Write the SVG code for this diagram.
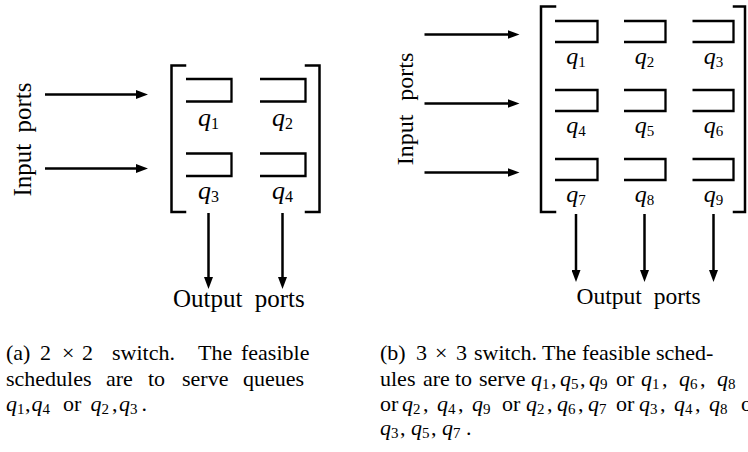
<svg xmlns="http://www.w3.org/2000/svg" width="748" height="452" viewBox="0 0 748 452">
<style>
.ln{stroke:#000;stroke-width:2.5;fill:none;stroke-linecap:square}
.q{stroke:#000;stroke-width:2.3;fill:none}
.arr{stroke:#000;stroke-width:2.5;fill:none;marker-end:url(#ah)}
text{font-family:"Liberation Serif","Times New Roman",serif;fill:#000}
.lbl{font-size:26px;text-anchor:middle}
.lbr{font-size:24px;text-anchor:middle}
.it{font-style:italic}
.cap{font-size:22px}
.s{font-size:15px}
.port{font-size:25px}
</style>
<defs>
<marker id="ah" markerUnits="userSpaceOnUse" markerWidth="12" markerHeight="9" refX="6" refY="4.5" orient="auto">
<path d="M0,0 L12,4.5 L0,9 Z" fill="#000"/>
</marker>
</defs>

<!-- Left panel: 2x2 switch -->
<g id="switchA">
<path class="ln" d="M185,65.5 H171.5 V212 H185"/>
<path class="ln" d="M306,65.5 H319.5 V212 H306"/>
</g>
<g id="a_q1"><path class="q" d="M186,79 H231.5 V101.5 H186"/><text class="lbl" x="208.5" y="126"><tspan class="it">q</tspan><tspan font-size="16" dy="3">1</tspan></text></g>
<g id="a_q2"><path class="q" d="M260,79 H305.5 V101.5 H260"/><text class="lbl" x="282.5" y="126"><tspan class="it">q</tspan><tspan font-size="16" dy="3">2</tspan></text></g>
<g id="a_q3"><path class="q" d="M186,153.5 H231.5 V176 H186"/><text class="lbl" x="208.5" y="199"><tspan class="it">q</tspan><tspan font-size="16" dy="3">3</tspan></text></g>
<g id="a_q4"><path class="q" d="M260,153.5 H305.5 V176 H260"/><text class="lbl" x="282.5" y="199"><tspan class="it">q</tspan><tspan font-size="16" dy="3">4</tspan></text></g>
<g id="a_in"><text class="port" transform="translate(31,139.5) rotate(-90)" text-anchor="middle" word-spacing="5">Input ports</text></g>
<g id="a_out"><text class="port" x="173" y="307" word-spacing="6">Output ports</text></g>

<!-- Right panel: 3x3 switch -->
<g id="switchB">
<path class="ln" d="M555,6.5 H541 V212 H555"/>
<path class="ln" d="M734,6.5 H745 V212 H734"/>
</g>
<g id="b_q1"><path class="q" d="M555,21 H597.5 V42 H555"/><text class="lbr" x="576" y="63.5"><tspan class="it">q</tspan><tspan font-size="15" dy="3">1</tspan></text></g>
<g id="b_q2"><path class="q" d="M624,21 H665.5 V42 H624"/><text class="lbr" x="644.5" y="63.5"><tspan class="it">q</tspan><tspan font-size="15" dy="3">2</tspan></text></g>
<g id="b_q3"><path class="q" d="M692.5,21 H733.5 V42 H692.5"/><text class="lbr" x="713.5" y="63.5"><tspan class="it">q</tspan><tspan font-size="15" dy="3">3</tspan></text></g>
<g id="b_q4"><path class="q" d="M555,90 H597.5 V111 H555"/><text class="lbr" x="576" y="132.5"><tspan class="it">q</tspan><tspan font-size="15" dy="3">4</tspan></text></g>
<g id="b_q5"><path class="q" d="M624,90 H665.5 V111 H624"/><text class="lbr" x="644.5" y="132.5"><tspan class="it">q</tspan><tspan font-size="15" dy="3">5</tspan></text></g>
<g id="b_q6"><path class="q" d="M692.5,90 H733.5 V111 H692.5"/><text class="lbr" x="713.5" y="132.5"><tspan class="it">q</tspan><tspan font-size="15" dy="3">6</tspan></text></g>
<g id="b_q7"><path class="q" d="M555,159 H597.5 V180 H555"/><text class="lbr" x="576" y="201.5"><tspan class="it">q</tspan><tspan font-size="15" dy="3">7</tspan></text></g>
<g id="b_q8"><path class="q" d="M624,159 H665.5 V180 H624"/><text class="lbr" x="644.5" y="201.5"><tspan class="it">q</tspan><tspan font-size="15" dy="3">8</tspan></text></g>
<g id="b_q9"><path class="q" d="M692.5,159 H733.5 V180 H692.5"/><text class="lbr" x="713.5" y="201.5"><tspan class="it">q</tspan><tspan font-size="15" dy="3">9</tspan></text></g>
<g id="b_in"><text style="font-size:24px" transform="translate(413,109) rotate(-90)" text-anchor="middle" word-spacing="8">Input ports</text></g>
<g id="b_out"><text x="576.5" y="304" style="font-size:23.5px" word-spacing="6">Output ports</text></g>

<!-- Connectors -->
<g id="connectors">
<line class="arr" x1="45" y1="94.5" x2="142" y2="94.5"/>
<line class="arr" x1="45" y1="168.5" x2="142" y2="168.5"/>
<line class="arr" x1="208.5" y1="213" x2="208.5" y2="283"/>
<line class="arr" x1="282.5" y1="213" x2="282.5" y2="283"/>
<line class="arr" x1="424.5" y1="34.5" x2="513.5" y2="34.5"/>
<line class="arr" x1="424.5" y1="103.5" x2="513.5" y2="103.5"/>
<line class="arr" x1="424.5" y1="172.5" x2="513.5" y2="172.5"/>
<line class="arr" x1="576" y1="214" x2="576" y2="276"/>
<line class="arr" x1="644.5" y1="214" x2="644.5" y2="276"/>
<line class="arr" x1="713.5" y1="214" x2="713.5" y2="276"/>
</g>

<!-- Captions -->
<g id="captionA">
<text class="cap" y="360"><tspan x="6">(a)</tspan><tspan x="40">2</tspan><tspan x="62">×</tspan><tspan x="82">2</tspan><tspan x="112">switch.</tspan><tspan x="198">The</tspan><tspan x="241">feasible</tspan></text>
<text class="cap" y="386"><tspan x="6">schedules</tspan><tspan x="106">are</tspan><tspan x="148">to</tspan><tspan x="182">serve</tspan><tspan x="243">queues</tspan></text>
<text class="cap" y="410.5"><tspan x="6" class="it">q</tspan><tspan class="s" dy="3">1</tspan><tspan x="25" dy="-3">,</tspan><tspan x="31.5" class="it">q</tspan><tspan class="s" dy="3">4</tspan><tspan x="63" dy="-3">or</tspan><tspan x="90.5" class="it">q</tspan><tspan class="s" dy="3">2</tspan><tspan x="112" dy="-3">,</tspan><tspan x="119" class="it">q</tspan><tspan class="s" dy="3">3</tspan><tspan x="141.5" dy="-3">.</tspan></text>
</g>
<g id="captionB">
<text class="cap" y="360"><tspan x="380">(b)</tspan><tspan x="416">3</tspan><tspan x="435">×</tspan><tspan x="456">3</tspan><tspan x="474">switch.</tspan><tspan x="542">The</tspan><tspan x="582">feasible</tspan><tspan x="656">sched-</tspan></text>
<text class="cap" y="385.5"><tspan x="380">ules</tspan><tspan x="423">are</tspan><tspan x="455">to</tspan><tspan x="479">serve</tspan><tspan x="531" class="it">q</tspan><tspan class="s" dy="3">1</tspan><tspan x="551" dy="-3">,</tspan><tspan x="560" class="it">q</tspan><tspan class="s" dy="3">5</tspan><tspan x="580" dy="-3">,</tspan><tspan x="589" class="it">q</tspan><tspan class="s" dy="3">9</tspan><tspan x="616" dy="-3">or</tspan><tspan x="641" class="it">q</tspan><tspan class="s" dy="3">1</tspan><tspan x="662" dy="-3">,</tspan><tspan x="679" class="it">q</tspan><tspan class="s" dy="3">6</tspan><tspan x="700" dy="-3">,</tspan><tspan x="717" class="it">q</tspan><tspan class="s" dy="3">8</tspan></text>
<text class="cap" y="410.5"><tspan x="380">or</tspan><tspan x="402" class="it">q</tspan><tspan class="s" dy="3">2</tspan><tspan x="423" dy="-3">,</tspan><tspan x="437" class="it">q</tspan><tspan class="s" dy="3">4</tspan><tspan x="458" dy="-3">,</tspan><tspan x="472" class="it">q</tspan><tspan class="s" dy="3">9</tspan><tspan x="502" dy="-3">or</tspan><tspan x="526" class="it">q</tspan><tspan class="s" dy="3">2</tspan><tspan x="547" dy="-3">,</tspan><tspan x="557" class="it">q</tspan><tspan class="s" dy="3">6</tspan><tspan x="578" dy="-3">,</tspan><tspan x="588" class="it">q</tspan><tspan class="s" dy="3">7</tspan><tspan x="616" dy="-3">or</tspan><tspan x="639" class="it">q</tspan><tspan class="s" dy="3">3</tspan><tspan x="660" dy="-3">,</tspan><tspan x="674" class="it">q</tspan><tspan class="s" dy="3">4</tspan><tspan x="695" dy="-3">,</tspan><tspan x="709" class="it">q</tspan><tspan class="s" dy="3">8</tspan><tspan x="741" dy="-3">or</tspan></text>
<text class="cap" y="435"><tspan x="380" class="it">q</tspan><tspan class="s" dy="3">3</tspan><tspan x="400" dy="-3">,</tspan><tspan x="411" class="it">q</tspan><tspan class="s" dy="3">5</tspan><tspan x="431" dy="-3">,</tspan><tspan x="442" class="it">q</tspan><tspan class="s" dy="3">7</tspan><tspan x="466" dy="-3">.</tspan></text>
</g>
</svg>
